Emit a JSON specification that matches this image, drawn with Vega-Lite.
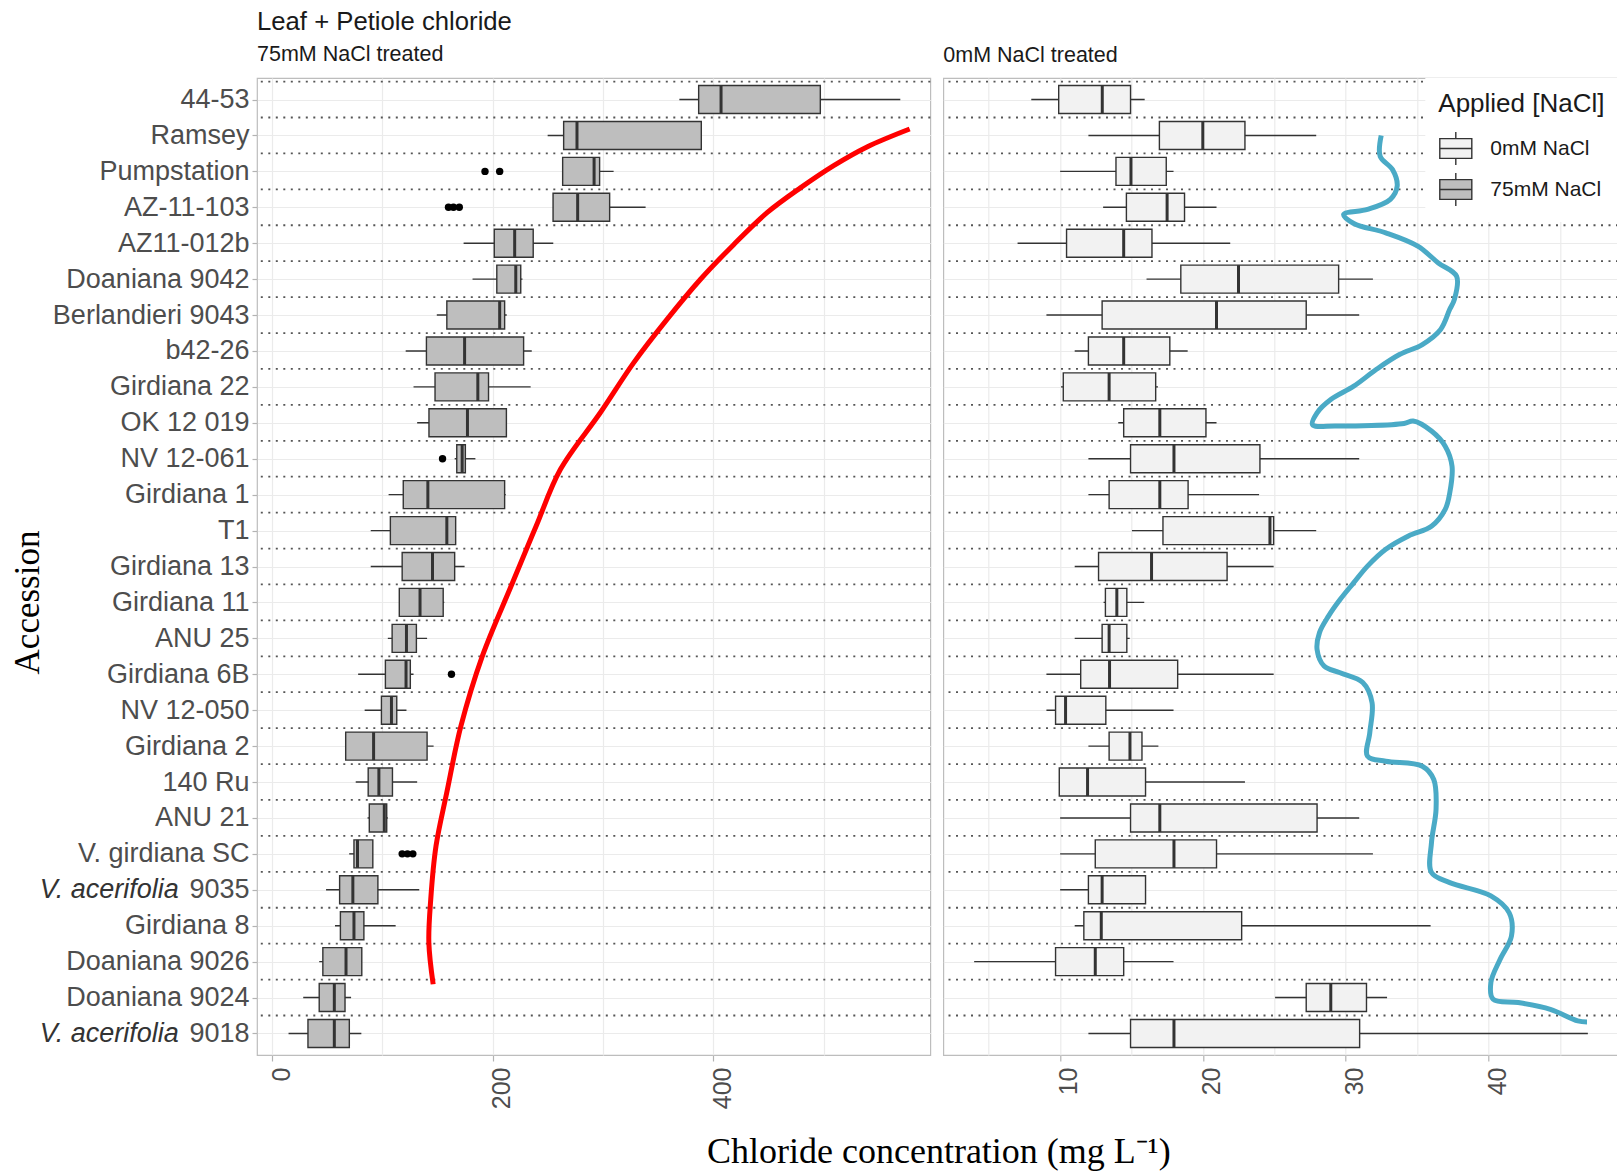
{
  "$schema": "https://vega.github.io/schema/vega-lite/v6.json",
  "background": "white",
  "padding": {"left": 9, "top": 8, "right": 0, "bottom": 0},
  "bounds": "flush",
  "spacing": 12.3,
  "config": {"view": {"stroke": "#bdbdbd", "strokeWidth": 1.2}, "font": "Liberation Sans"},
  "datasets": {
    "b75": [
      {"acc": "44-53", "lo": 369.3, "q1": 386.8, "med": 407.1, "q3": 497.1, "hi": 569.6},
      {"acc": "Ramsey", "lo": 249.9, "q1": 264.4, "med": 276.5, "q3": 389.2, "hi": 389.2},
      {"acc": "Pumpstation", "lo": 263.5, "q1": 263.5, "med": 292, "q3": 297, "hi": 309.7},
      {"acc": "AZ-11-103", "lo": 254.8, "q1": 254.8, "med": 277.1, "q3": 306.1, "hi": 338.7},
      {"acc": "AZ11-012b", "lo": 173.7, "q1": 201.5, "med": 220.0, "q3": 236.8, "hi": 255.0},
      {"acc": "Doaniana 9042", "lo": 181.8, "q1": 203.8, "med": 221.0, "q3": 225.5, "hi": 227.1},
      {"acc": "Berlandieri 9043", "lo": 149.4, "q1": 158.5, "med": 206.4, "q3": 210.9, "hi": 212.8},
      {"acc": "b42-26", "lo": 121.2, "q1": 140.0, "med": 174.6, "q3": 228.1, "hi": 235.5},
      {"acc": "Girdiana 22", "lo": 128.3, "q1": 147.8, "med": 186.6, "q3": 196.3, "hi": 234.5},
      {"acc": "OK 12 019", "lo": 131.6, "q1": 142.3, "med": 177.2, "q3": 212.5, "hi": 212.5},
      {"acc": "NV 12-061", "lo": 165.6, "q1": 167.5, "med": 172.4, "q3": 175.3, "hi": 184.4},
      {"acc": "Girdiana 1", "lo": 105.7, "q1": 119.0, "med": 141.3, "q3": 210.9, "hi": 211.9},
      {"acc": "T1", "lo": 89.5, "q1": 107.3, "med": 158.5, "q3": 166.5, "hi": 166.5},
      {"acc": "Girdiana 13", "lo": 89.5, "q1": 118.0, "med": 145.5, "q3": 165.6, "hi": 174.6},
      {"acc": "Girdiana 11", "lo": 115.4, "q1": 115.4, "med": 134.2, "q3": 155.2, "hi": 156.2},
      {"acc": "ANU 25", "lo": 105.0, "q1": 108.9, "med": 121.9, "q3": 130.9, "hi": 140.6},
      {"acc": "Girdiana 6B", "lo": 78.1, "q1": 102.8, "med": 121.5, "q3": 125.4, "hi": 128.3},
      {"acc": "NV 12-050", "lo": 84.0, "q1": 99.2, "med": 108.3, "q3": 113.1, "hi": 121.9},
      {"acc": "Girdiana 2", "lo": 66.8, "q1": 66.8, "med": 92.1, "q3": 140.6, "hi": 146.5},
      {"acc": "140 Ru", "lo": 75.9, "q1": 87.2, "med": 96.9, "q3": 109.2, "hi": 131.6},
      {"acc": "ANU 21", "lo": 86.6, "q1": 88.2, "med": 101.8, "q3": 104.0, "hi": 105.0},
      {"acc": "V. girdiana SC", "lo": 70.0, "q1": 74.3, "med": 77.5, "q3": 91.4, "hi": 91.4},
      {"acc": "V. acerifolia 9035", "lo": 49.0, "q1": 61.3, "med": 73.3, "q3": 96.0, "hi": 133.5},
      {"acc": "Girdiana 8", "lo": 57.1, "q1": 62.0, "med": 74.3, "q3": 83.3, "hi": 112.1},
      {"acc": "Doaniana 9026", "lo": 42.8, "q1": 46.1, "med": 67.1, "q3": 81.4, "hi": 81.4},
      {"acc": "Doaniana 9024", "lo": 28.3, "q1": 42.8, "med": 56.5, "q3": 66.2, "hi": 71.7},
      {"acc": "V. acerifolia 9018", "lo": 15.0, "q1": 32.6, "med": 56.5, "q3": 70.1, "hi": 81.0}
    ],
    "o75": [
      {"acc": "Pumpstation", "v": 193.1},
      {"acc": "Pumpstation", "v": 206.4},
      {"acc": "AZ-11-103", "v": 160.0},
      {"acc": "AZ-11-103", "v": 164.5},
      {"acc": "AZ-11-103", "v": 169.8},
      {"acc": "NV 12-061", "v": 154.6},
      {"acc": "Girdiana 6B", "v": 162.7},
      {"acc": "V. girdiana SC", "v": 118.0},
      {"acc": "V. girdiana SC", "v": 122.8},
      {"acc": "V. girdiana SC", "v": 127.7}
    ],
    "b0": [
      {"acc": "44-53", "trt": "0mM NaCl", "lo": 7.99, "q1": 9.91, "med": 12.96, "q3": 14.94, "hi": 15.93},
      {"acc": "Ramsey", "trt": "0mM NaCl", "lo": 11.99, "q1": 16.96, "med": 20.0, "q3": 22.95, "hi": 27.94},
      {"acc": "Pumpstation", "trt": "0mM NaCl", "lo": 10.01, "q1": 13.92, "med": 14.97, "q3": 17.44, "hi": 17.95},
      {"acc": "AZ-11-103", "trt": "0mM NaCl", "lo": 13.02, "q1": 14.65, "med": 17.5, "q3": 18.72, "hi": 20.96},
      {"acc": "AZ11-012b", "trt": "0mM NaCl", "lo": 7.03, "q1": 10.46, "med": 14.46, "q3": 16.44, "hi": 21.92},
      {"acc": "Doaniana 9042", "trt": "0mM NaCl", "lo": 16.06, "q1": 18.46, "med": 22.5, "q3": 29.51, "hi": 31.91},
      {"acc": "Berlandieri 9043", "trt": "0mM NaCl", "lo": 9.05, "q1": 12.95, "med": 20.96, "q3": 27.24, "hi": 30.95},
      {"acc": "b42-26", "trt": "0mM NaCl", "lo": 11.03, "q1": 11.99, "med": 14.46, "q3": 17.69, "hi": 18.94},
      {"acc": "Girdiana 22", "trt": "0mM NaCl", "lo": 10.07, "q1": 10.23, "med": 13.44, "q3": 16.7, "hi": 16.86},
      {"acc": "OK 12 019", "trt": "0mM NaCl", "lo": 14.08, "q1": 14.46, "med": 16.99, "q3": 20.22, "hi": 20.96},
      {"acc": "NV 12-061", "trt": "0mM NaCl", "lo": 11.99, "q1": 14.94, "med": 17.98, "q3": 24.0, "hi": 30.95},
      {"acc": "Girdiana 1", "trt": "0mM NaCl", "lo": 11.99, "q1": 13.44, "med": 16.99, "q3": 18.97, "hi": 23.94},
      {"acc": "T1", "trt": "0mM NaCl", "lo": 15.04, "q1": 17.21, "med": 24.7, "q3": 24.96, "hi": 27.94},
      {"acc": "Girdiana 13", "trt": "0mM NaCl", "lo": 11.03, "q1": 12.7, "med": 16.41, "q3": 21.7, "hi": 24.96},
      {"acc": "Girdiana 11", "trt": "0mM NaCl", "lo": 13.05, "q1": 13.18, "med": 13.98, "q3": 14.68, "hi": 15.9},
      {"acc": "ANU 25", "trt": "0mM NaCl", "lo": 11.03, "q1": 12.95, "med": 13.44, "q3": 14.68, "hi": 14.88},
      {"acc": "Girdiana 6B", "trt": "0mM NaCl", "lo": 9.05, "q1": 11.45, "med": 13.47, "q3": 18.24, "hi": 24.96},
      {"acc": "NV 12-050", "trt": "0mM NaCl", "lo": 9.05, "q1": 9.69, "med": 10.39, "q3": 13.21, "hi": 17.95},
      {"acc": "Girdiana 2", "trt": "0mM NaCl", "lo": 11.99, "q1": 13.44, "med": 14.9, "q3": 15.74, "hi": 16.89},
      {"acc": "140 Ru", "trt": "0mM NaCl", "lo": 9.95, "q1": 9.95, "med": 11.93, "q3": 15.99, "hi": 22.95},
      {"acc": "ANU 21", "trt": "0mM NaCl", "lo": 10.01, "q1": 14.94, "med": 16.99, "q3": 28.0, "hi": 30.95},
      {"acc": "V. girdiana SC", "trt": "0mM NaCl", "lo": 10.01, "q1": 12.47, "med": 17.98, "q3": 20.96, "hi": 31.91},
      {"acc": "V. acerifolia 9035", "trt": "0mM NaCl", "lo": 10.01, "q1": 11.99, "med": 12.95, "q3": 15.99, "hi": 15.99},
      {"acc": "Girdiana 8", "trt": "0mM NaCl", "lo": 11.03, "q1": 11.67, "med": 12.89, "q3": 22.72, "hi": 35.95},
      {"acc": "Doaniana 9026", "trt": "0mM NaCl", "lo": 3.99, "q1": 9.69, "med": 12.47, "q3": 14.46, "hi": 17.95},
      {"acc": "Doaniana 9024", "trt": "0mM NaCl", "lo": 25.06, "q1": 27.24, "med": 28.96, "q3": 31.46, "hi": 32.9},
      {"acc": "V. acerifolia 9018", "trt": "0mM NaCl", "lo": 11.99, "q1": 14.94, "med": 17.98, "q3": 30.98, "hi": 46.96}
    ],
    "curves": [
      {"panel": "L", "seq": 1, "v": 146.1, "r": 24.63},
      {"panel": "L", "seq": 2, "v": 142.2, "r": 23.47},
      {"panel": "L", "seq": 3, "v": 143.9, "r": 22.27},
      {"panel": "L", "seq": 4, "v": 148.7, "r": 20.78},
      {"panel": "L", "seq": 5, "v": 158.4, "r": 19.30},
      {"panel": "L", "seq": 6, "v": 171.3, "r": 17.44},
      {"panel": "L", "seq": 7, "v": 190.6, "r": 15.5},
      {"panel": "L", "seq": 8, "v": 216.7, "r": 13.55},
      {"panel": "L", "seq": 9, "v": 239.4, "r": 11.88},
      {"panel": "L", "seq": 10, "v": 261.4, "r": 10.30},
      {"panel": "L", "seq": 11, "v": 297.6, "r": 8.72},
      {"panel": "L", "seq": 12, "v": 327.8, "r": 7.33},
      {"panel": "L", "seq": 13, "v": 358.1, "r": 6.12},
      {"panel": "L", "seq": 14, "v": 388.3, "r": 5.01},
      {"panel": "L", "seq": 15, "v": 418.5, "r": 4.04},
      {"panel": "L", "seq": 16, "v": 448.8, "r": 3.15},
      {"panel": "L", "seq": 17, "v": 479.0, "r": 2.46},
      {"panel": "L", "seq": 18, "v": 509.2, "r": 1.84},
      {"panel": "L", "seq": 19, "v": 539.4, "r": 1.32},
      {"panel": "L", "seq": 20, "v": 578.1, "r": 0.82},
      {"panel": "R", "seq": 1, "v": 32.49, "r": 1.00},
      {"panel": "R", "seq": 2, "v": 32.42, "r": 1.58},
      {"panel": "R", "seq": 3, "v": 33.28, "r": 1.95},
      {"panel": "R", "seq": 4, "v": 33.61, "r": 2.41},
      {"panel": "R", "seq": 5, "v": 33.13, "r": 2.78},
      {"panel": "R", "seq": 6, "v": 31.53, "r": 3.06},
      {"panel": "R", "seq": 7, "v": 29.86, "r": 3.20},
      {"panel": "R", "seq": 8, "v": 30.57, "r": 3.45},
      {"panel": "R", "seq": 9, "v": 32.81, "r": 3.71},
      {"panel": "R", "seq": 10, "v": 35.05, "r": 4.08},
      {"panel": "R", "seq": 11, "v": 36.49, "r": 4.55},
      {"panel": "R", "seq": 12, "v": 37.77, "r": 4.92},
      {"panel": "R", "seq": 13, "v": 37.61, "r": 5.57},
      {"panel": "R", "seq": 14, "v": 37.29, "r": 5.84},
      {"panel": "R", "seq": 15, "v": 36.65, "r": 6.40},
      {"panel": "R", "seq": 16, "v": 35.37, "r": 6.82},
      {"panel": "R", "seq": 17, "v": 33.77, "r": 7.10},
      {"panel": "R", "seq": 18, "v": 32.16, "r": 7.51},
      {"panel": "R", "seq": 19, "v": 30.57, "r": 7.98},
      {"panel": "R", "seq": 20, "v": 28.96, "r": 8.35},
      {"panel": "R", "seq": 21, "v": 28.00, "r": 8.72},
      {"panel": "R", "seq": 22, "v": 27.68, "r": 9.05},
      {"panel": "R", "seq": 23, "v": 29.29, "r": 9.09},
      {"panel": "R", "seq": 24, "v": 34.09, "r": 9.02},
      {"panel": "R", "seq": 25, "v": 34.73, "r": 8.95},
      {"panel": "R", "seq": 26, "v": 36.01, "r": 9.23},
      {"panel": "R", "seq": 27, "v": 36.97, "r": 9.65},
      {"panel": "R", "seq": 28, "v": 37.45, "r": 10.21},
      {"panel": "R", "seq": 29, "v": 37.29, "r": 10.95},
      {"panel": "R", "seq": 30, "v": 36.97, "r": 11.41},
      {"panel": "R", "seq": 31, "v": 36.01, "r": 11.88},
      {"panel": "R", "seq": 32, "v": 34.40, "r": 12.15},
      {"panel": "R", "seq": 33, "v": 32.81, "r": 12.52},
      {"panel": "R", "seq": 34, "v": 31.53, "r": 12.99},
      {"panel": "R", "seq": 35, "v": 30.57, "r": 13.45},
      {"panel": "R", "seq": 36, "v": 29.61, "r": 13.92},
      {"panel": "R", "seq": 37, "v": 28.80, "r": 14.38},
      {"panel": "R", "seq": 38, "v": 28.17, "r": 14.84},
      {"panel": "R", "seq": 39, "v": 28.00, "r": 15.31},
      {"panel": "R", "seq": 40, "v": 28.49, "r": 15.77},
      {"panel": "R", "seq": 41, "v": 29.61, "r": 15.96},
      {"panel": "R", "seq": 42, "v": 31.20, "r": 16.23},
      {"panel": "R", "seq": 43, "v": 31.85, "r": 16.79},
      {"panel": "R", "seq": 44, "v": 31.69, "r": 17.63},
      {"panel": "R", "seq": 45, "v": 31.53, "r": 18.28},
      {"panel": "R", "seq": 46, "v": 32.81, "r": 18.42},
      {"panel": "R", "seq": 47, "v": 35.37, "r": 18.56},
      {"panel": "R", "seq": 48, "v": 36.17, "r": 18.93},
      {"panel": "R", "seq": 49, "v": 36.33, "r": 19.76},
      {"panel": "R", "seq": 50, "v": 36.01, "r": 20.69},
      {"panel": "R", "seq": 51, "v": 36.01, "r": 21.52},
      {"panel": "R", "seq": 52, "v": 37.29, "r": 21.80},
      {"panel": "R", "seq": 53, "v": 40.17, "r": 22.17},
      {"panel": "R", "seq": 54, "v": 41.45, "r": 22.64},
      {"panel": "R", "seq": 55, "v": 41.61, "r": 23.29},
      {"panel": "R", "seq": 56, "v": 40.81, "r": 23.94},
      {"panel": "R", "seq": 57, "v": 40.17, "r": 24.58},
      {"panel": "R", "seq": 58, "v": 40.33, "r": 25.05},
      {"panel": "R", "seq": 59, "v": 42.09, "r": 25.14},
      {"panel": "R", "seq": 60, "v": 44.33, "r": 25.33},
      {"panel": "R", "seq": 61, "v": 46.25, "r": 25.65},
      {"panel": "R", "seq": 62, "v": 46.90, "r": 25.68}
    ]
  },
  "resolve": {"scale": {"fill": "independent"}, "legend": {"fill": "independent"}},
  "hconcat": [
    {
      "width": 673.3,
      "height": 977,
      "title": {"text": "Leaf + Petiole chloride", "subtitle": "75mM NaCl treated", "anchor": "start", "frame": "group", "font": "Liberation Sans", "fontSize": 25.7, "fontWeight": "normal", "color": "#1a1a1a", "subtitleFont": "Liberation Sans", "subtitleFontSize": 21.5, "subtitleColor": "#1a1a1a", "subtitlePadding": 8, "offset": 12},
      "layer": [
        {
          "data": {"name": "b75"},
          "layer": [
            {
              "mark": {"type": "rule", "strokeDash": [2, 5.5], "strokeWidth": 1.8, "color": "#555555", "yOffset": -17.96},
              "encoding": {
                "y": {"field": "acc", "type": "nominal", "scale": {"type": "point", "padding": 0.6, "domain": ["44-53","Ramsey","Pumpstation","AZ-11-103","AZ11-012b","Doaniana 9042","Berlandieri 9043","b42-26","Girdiana 22","OK 12 019","NV 12-061","Girdiana 1","T1","Girdiana 13","Girdiana 11","ANU 25","Girdiana 6B","NV 12-050","Girdiana 2","140 Ru","ANU 21","V. girdiana SC","V. acerifolia 9035","Girdiana 8","Doaniana 9026","Doaniana 9024","V. acerifolia 9018"]},
                  "axis": {"orient": "left", "labelExpr": "datum.value === 'V. acerifolia 9035' ? '9035' : (datum.value === 'V. acerifolia 9018' ? '9018' : datum.label)", "labelFont": "Liberation Sans", "labelFontSize": 27, "labelColor": "#4d4d4d", "labelPadding": 3, "labelLimit": 0, "labelOverlap": false, "tickSize": 5, "tickColor": "#b3b3b3", "tickWidth": 1.2, "grid": true, "gridColor": "#ebebeb", "gridWidth": 1.2, "domain": false, "title": null}}
              }
            },
            {
              "mark": {"type": "rule", "color": "#333333", "strokeWidth": 1.4},
              "encoding": {
                "y": {"field": "acc", "type": "nominal", "scale": {"type": "point", "padding": 0.6, "domain": ["44-53","Ramsey","Pumpstation","AZ-11-103","AZ11-012b","Doaniana 9042","Berlandieri 9043","b42-26","Girdiana 22","OK 12 019","NV 12-061","Girdiana 1","T1","Girdiana 13","Girdiana 11","ANU 25","Girdiana 6B","NV 12-050","Girdiana 2","140 Ru","ANU 21","V. girdiana SC","V. acerifolia 9035","Girdiana 8","Doaniana 9026","Doaniana 9024","V. acerifolia 9018"]},
                  "axis": {"orient": "left", "labelExpr": "datum.value === 'V. acerifolia 9035' ? '9035' : (datum.value === 'V. acerifolia 9018' ? '9018' : datum.label)", "labelFont": "Liberation Sans", "labelFontSize": 27, "labelColor": "#4d4d4d", "labelPadding": 3, "labelLimit": 0, "labelOverlap": false, "tickSize": 5, "tickColor": "#b3b3b3", "tickWidth": 1.2, "grid": true, "gridColor": "#ebebeb", "gridWidth": 1.2, "domain": false, "title": null}},
                "x": {"field": "lo", "type": "quantitative", "scale": {"domain": [-13.6, 596.8], "nice": false, "zero": false},
                  "axis": {"values": [0, 100, 200, 300, 400, 500], "labelExpr": "datum.value % 200 === 0 ? datum.label : ''", "tickOpacity": {"condition": {"test": "datum.value % 200 !== 0", "value": 0}, "value": 1}, "grid": true, "gridColor": "#ebebeb", "gridWidth": 1.2, "domain": false, "tickSize": 6, "tickColor": "#b3b3b3", "tickWidth": 1.2, "labelAngle": -90, "labelAlign": "right", "labelBaseline": "middle", "labelOffset": 9, "labelFlush": false, "labelOverlap": false, "labelFont": "Liberation Sans", "labelFontSize": 25, "labelColor": "#4d4d4d", "labelPadding": 6, "title": "Chloride concentration (mg L⁻¹)", "titleFont": "Liberation Serif", "titleFontSize": 36, "titleFontWeight": "normal", "titleColor": "#000000", "titleX": 681.3, "titlePadding": 26}},
                "x2": {"field": "hi"}
              }
            },
            {
              "mark": {"type": "bar", "size": 28, "fill": "#bebebe", "stroke": "#333333", "strokeWidth": 1.4, "opacity": 1},
              "encoding": {
                "y": {"field": "acc", "type": "nominal", "scale": {"type": "point", "padding": 0.6, "domain": ["44-53","Ramsey","Pumpstation","AZ-11-103","AZ11-012b","Doaniana 9042","Berlandieri 9043","b42-26","Girdiana 22","OK 12 019","NV 12-061","Girdiana 1","T1","Girdiana 13","Girdiana 11","ANU 25","Girdiana 6B","NV 12-050","Girdiana 2","140 Ru","ANU 21","V. girdiana SC","V. acerifolia 9035","Girdiana 8","Doaniana 9026","Doaniana 9024","V. acerifolia 9018"]},
                  "axis": {"orient": "left", "labelExpr": "datum.value === 'V. acerifolia 9035' ? '9035' : (datum.value === 'V. acerifolia 9018' ? '9018' : datum.label)", "labelFont": "Liberation Sans", "labelFontSize": 27, "labelColor": "#4d4d4d", "labelPadding": 3, "labelLimit": 0, "labelOverlap": false, "tickSize": 5, "tickColor": "#b3b3b3", "tickWidth": 1.2, "grid": true, "gridColor": "#ebebeb", "gridWidth": 1.2, "domain": false, "title": null}},
                "x": {"field": "q1", "type": "quantitative", "scale": {"domain": [-13.6, 596.8], "nice": false, "zero": false},
                  "axis": {"values": [0, 100, 200, 300, 400, 500], "labelExpr": "datum.value % 200 === 0 ? datum.label : ''", "tickOpacity": {"condition": {"test": "datum.value % 200 !== 0", "value": 0}, "value": 1}, "grid": true, "gridColor": "#ebebeb", "gridWidth": 1.2, "domain": false, "tickSize": 6, "tickColor": "#b3b3b3", "tickWidth": 1.2, "labelAngle": -90, "labelAlign": "right", "labelBaseline": "middle", "labelOffset": 9, "labelFlush": false, "labelOverlap": false, "labelFont": "Liberation Sans", "labelFontSize": 25, "labelColor": "#4d4d4d", "labelPadding": 6, "title": "Chloride concentration (mg L⁻¹)", "titleFont": "Liberation Serif", "titleFontSize": 36, "titleFontWeight": "normal", "titleColor": "#000000", "titleX": 681.3, "titlePadding": 26}},
                "x2": {"field": "q3"}
              }
            },
            {
              "mark": {"type": "tick", "size": 28, "thickness": 3, "color": "#333333", "opacity": 1},
              "encoding": {
                "y": {"field": "acc", "type": "nominal", "scale": {"type": "point", "padding": 0.6, "domain": ["44-53","Ramsey","Pumpstation","AZ-11-103","AZ11-012b","Doaniana 9042","Berlandieri 9043","b42-26","Girdiana 22","OK 12 019","NV 12-061","Girdiana 1","T1","Girdiana 13","Girdiana 11","ANU 25","Girdiana 6B","NV 12-050","Girdiana 2","140 Ru","ANU 21","V. girdiana SC","V. acerifolia 9035","Girdiana 8","Doaniana 9026","Doaniana 9024","V. acerifolia 9018"]},
                  "axis": {"orient": "left", "labelExpr": "datum.value === 'V. acerifolia 9035' ? '9035' : (datum.value === 'V. acerifolia 9018' ? '9018' : datum.label)", "labelFont": "Liberation Sans", "labelFontSize": 27, "labelColor": "#4d4d4d", "labelPadding": 3, "labelLimit": 0, "labelOverlap": false, "tickSize": 5, "tickColor": "#b3b3b3", "tickWidth": 1.2, "grid": true, "gridColor": "#ebebeb", "gridWidth": 1.2, "domain": false, "title": null}},
                "x": {"field": "med", "type": "quantitative", "scale": {"domain": [-13.6, 596.8], "nice": false, "zero": false},
                  "axis": {"values": [0, 100, 200, 300, 400, 500], "labelExpr": "datum.value % 200 === 0 ? datum.label : ''", "tickOpacity": {"condition": {"test": "datum.value % 200 !== 0", "value": 0}, "value": 1}, "grid": true, "gridColor": "#ebebeb", "gridWidth": 1.2, "domain": false, "tickSize": 6, "tickColor": "#b3b3b3", "tickWidth": 1.2, "labelAngle": -90, "labelAlign": "right", "labelBaseline": "middle", "labelOffset": 9, "labelFlush": false, "labelOverlap": false, "labelFont": "Liberation Sans", "labelFontSize": 25, "labelColor": "#4d4d4d", "labelPadding": 6, "title": "Chloride concentration (mg L⁻¹)", "titleFont": "Liberation Serif", "titleFontSize": 36, "titleFontWeight": "normal", "titleColor": "#000000", "titleX": 681.3, "titlePadding": 26}}
              }
            },
            {
              "data": {"name": "o75"},
              "mark": {"type": "circle", "size": 55, "color": "#000000", "opacity": 1},
              "encoding": {
                "y": {"field": "acc", "type": "nominal", "scale": {"type": "point", "padding": 0.6, "domain": ["44-53","Ramsey","Pumpstation","AZ-11-103","AZ11-012b","Doaniana 9042","Berlandieri 9043","b42-26","Girdiana 22","OK 12 019","NV 12-061","Girdiana 1","T1","Girdiana 13","Girdiana 11","ANU 25","Girdiana 6B","NV 12-050","Girdiana 2","140 Ru","ANU 21","V. girdiana SC","V. acerifolia 9035","Girdiana 8","Doaniana 9026","Doaniana 9024","V. acerifolia 9018"]},
                  "axis": {"orient": "left", "labelExpr": "datum.value === 'V. acerifolia 9035' ? '9035' : (datum.value === 'V. acerifolia 9018' ? '9018' : datum.label)", "labelFont": "Liberation Sans", "labelFontSize": 27, "labelColor": "#4d4d4d", "labelPadding": 3, "labelLimit": 0, "labelOverlap": false, "tickSize": 5, "tickColor": "#b3b3b3", "tickWidth": 1.2, "grid": true, "gridColor": "#ebebeb", "gridWidth": 1.2, "domain": false, "title": null}},
                "x": {"field": "v", "type": "quantitative", "scale": {"domain": [-13.6, 596.8], "nice": false, "zero": false},
                  "axis": {"values": [0, 100, 200, 300, 400, 500], "labelExpr": "datum.value % 200 === 0 ? datum.label : ''", "tickOpacity": {"condition": {"test": "datum.value % 200 !== 0", "value": 0}, "value": 1}, "grid": true, "gridColor": "#ebebeb", "gridWidth": 1.2, "domain": false, "tickSize": 6, "tickColor": "#b3b3b3", "tickWidth": 1.2, "labelAngle": -90, "labelAlign": "right", "labelBaseline": "middle", "labelOffset": 9, "labelFlush": false, "labelOverlap": false, "labelFont": "Liberation Sans", "labelFontSize": 25, "labelColor": "#4d4d4d", "labelPadding": 6, "title": "Chloride concentration (mg L⁻¹)", "titleFont": "Liberation Serif", "titleFontSize": 36, "titleFontWeight": "normal", "titleColor": "#000000", "titleX": 681.3, "titlePadding": 26}}
              }
            }
          ]
        },
        {
          "data": {"name": "b75"},
          "mark": {"type": "point", "opacity": 0},
          "encoding": {
            "y": {"field": "acc", "type": "nominal", "scale": {"type": "point", "padding": 0.6, "domain": ["44-53","Ramsey","Pumpstation","AZ-11-103","AZ11-012b","Doaniana 9042","Berlandieri 9043","b42-26","Girdiana 22","OK 12 019","NV 12-061","Girdiana 1","T1","Girdiana 13","Girdiana 11","ANU 25","Girdiana 6B","NV 12-050","Girdiana 2","140 Ru","ANU 21","V. girdiana SC","V. acerifolia 9035","Girdiana 8","Doaniana 9026","Doaniana 9024","V. acerifolia 9018"]},
              "axis": {"orient": "left", "labelExpr": "(datum.value === 'V. acerifolia 9035' || datum.value === 'V. acerifolia 9018') ? 'V. acerifolia' : ''", "labelFont": "Liberation Sans", "labelFontStyle": "italic", "labelFontSize": 27, "labelColor": "#333333", "labelLimit": 0, "labelOverlap": false, "ticks": true, "tickSize": 5, "tickOpacity": 0, "labelPadding": 73.8, "grid": false, "domain": false, "title": "Accession", "titleFont": "Liberation Serif", "titleFontSize": 35, "titleFontWeight": "normal", "titleColor": "#000000", "titleBaseline": "alphabetic", "titlePadding": 18.5, "titleY": 524}},
            "x": {"field": "med", "type": "quantitative", "scale": {"domain": [-13.6, 596.8], "nice": false, "zero": false},
              "axis": {"values": [0, 100, 200, 300, 400, 500], "labelExpr": "datum.value % 200 === 0 ? datum.label : ''", "tickOpacity": {"condition": {"test": "datum.value % 200 !== 0", "value": 0}, "value": 1}, "grid": true, "gridColor": "#ebebeb", "gridWidth": 1.2, "domain": false, "tickSize": 6, "tickColor": "#b3b3b3", "tickWidth": 1.2, "labelAngle": -90, "labelAlign": "right", "labelBaseline": "middle", "labelOffset": 9, "labelFlush": false, "labelOverlap": false, "labelFont": "Liberation Sans", "labelFontSize": 25, "labelColor": "#4d4d4d", "labelPadding": 6, "title": "Chloride concentration (mg L⁻¹)", "titleFont": "Liberation Serif", "titleFontSize": 36, "titleFontWeight": "normal", "titleColor": "#000000", "titleX": 681.3, "titlePadding": 26}}
          }
        },
        {
          "data": {"name": "curves"},
          "transform": [{"filter": "datum.panel === 'L'"}],
          "mark": {"type": "line", "color": "#ff0000", "strokeWidth": 5, "interpolate": "catmull-rom", "clip": true},
          "encoding": {
            "x": {"field": "v", "type": "quantitative", "scale": {"domain": [-13.6, 596.8], "nice": false, "zero": false},
              "axis": {"values": [0, 100, 200, 300, 400, 500], "labelExpr": "datum.value % 200 === 0 ? datum.label : ''", "tickOpacity": {"condition": {"test": "datum.value % 200 !== 0", "value": 0}, "value": 1}, "grid": true, "gridColor": "#ebebeb", "gridWidth": 1.2, "domain": false, "tickSize": 6, "tickColor": "#b3b3b3", "tickWidth": 1.2, "labelAngle": -90, "labelAlign": "right", "labelBaseline": "middle", "labelOffset": 9, "labelFlush": false, "labelOverlap": false, "labelFont": "Liberation Sans", "labelFontSize": 25, "labelColor": "#4d4d4d", "labelPadding": 6, "title": "Chloride concentration (mg L⁻¹)", "titleFont": "Liberation Serif", "titleFontSize": 36, "titleFontWeight": "normal", "titleColor": "#000000", "titleX": 681.3, "titlePadding": 26}},
            "y": {"field": "r", "type": "quantitative", "scale": {"domain": [-0.6, 26.6], "reverse": true, "nice": false, "zero": false}, "axis": null},
            "order": {"field": "seq", "type": "quantitative"}
          }
        }
      ],
      "resolve": {"scale": {"y": "independent"}, "axis": {"y": "independent"}}
    },
    {
      "width": 674.7,
      "height": 977,
      "title": {"text": "0mM NaCl treated", "anchor": "start", "frame": "group", "font": "Liberation Sans", "fontSize": 21.5, "fontWeight": "normal", "color": "#1a1a1a", "offset": 12},
      "layer": [
        {
          "data": {"name": "b0"},
          "layer": [
            {
              "mark": {"type": "rule", "strokeDash": [2, 5.5], "strokeWidth": 1.8, "color": "#555555", "yOffset": -17.96},
              "encoding": {
                "y": {"field": "acc", "type": "nominal", "scale": {"type": "point", "padding": 0.6, "domain": ["44-53","Ramsey","Pumpstation","AZ-11-103","AZ11-012b","Doaniana 9042","Berlandieri 9043","b42-26","Girdiana 22","OK 12 019","NV 12-061","Girdiana 1","T1","Girdiana 13","Girdiana 11","ANU 25","Girdiana 6B","NV 12-050","Girdiana 2","140 Ru","ANU 21","V. girdiana SC","V. acerifolia 9035","Girdiana 8","Doaniana 9026","Doaniana 9024","V. acerifolia 9018"]},
                  "axis": {"labels": false, "ticks": false, "domain": false, "grid": true, "gridColor": "#ebebeb", "gridWidth": 1.2, "title": null}}
              }
            },
            {
              "mark": {"type": "rule", "color": "#333333", "strokeWidth": 1.4},
              "encoding": {
                "y": {"field": "acc", "type": "nominal", "scale": {"type": "point", "padding": 0.6, "domain": ["44-53","Ramsey","Pumpstation","AZ-11-103","AZ11-012b","Doaniana 9042","Berlandieri 9043","b42-26","Girdiana 22","OK 12 019","NV 12-061","Girdiana 1","T1","Girdiana 13","Girdiana 11","ANU 25","Girdiana 6B","NV 12-050","Girdiana 2","140 Ru","ANU 21","V. girdiana SC","V. acerifolia 9035","Girdiana 8","Doaniana 9026","Doaniana 9024","V. acerifolia 9018"]},
                  "axis": {"labels": false, "ticks": false, "domain": false, "grid": true, "gridColor": "#ebebeb", "gridWidth": 1.2, "title": null}},
                "x": {"field": "lo", "type": "quantitative", "scale": {"domain": [1.83, 49.07], "nice": false, "zero": false},
                  "axis": {"values": [5, 10, 15, 20, 25, 30, 35, 40, 45], "labelExpr": "datum.value % 10 === 0 ? datum.label : ''", "tickOpacity": {"condition": {"test": "datum.value % 10 !== 0", "value": 0}, "value": 1}, "grid": true, "gridColor": "#ebebeb", "gridWidth": 1.2, "domain": false, "tickSize": 6, "tickColor": "#b3b3b3", "tickWidth": 1.2, "labelAngle": -90, "labelAlign": "right", "labelBaseline": "middle", "labelOffset": 9, "labelFlush": false, "labelOverlap": false, "labelFont": "Liberation Sans", "labelFontSize": 25, "labelColor": "#4d4d4d", "labelPadding": 6, "title": null}},
                "x2": {"field": "hi"}
              }
            },
            {
              "mark": {"type": "bar", "size": 28, "stroke": "#333333", "strokeWidth": 1.4, "opacity": 1},
              "encoding": {
                "y": {"field": "acc", "type": "nominal", "scale": {"type": "point", "padding": 0.6, "domain": ["44-53","Ramsey","Pumpstation","AZ-11-103","AZ11-012b","Doaniana 9042","Berlandieri 9043","b42-26","Girdiana 22","OK 12 019","NV 12-061","Girdiana 1","T1","Girdiana 13","Girdiana 11","ANU 25","Girdiana 6B","NV 12-050","Girdiana 2","140 Ru","ANU 21","V. girdiana SC","V. acerifolia 9035","Girdiana 8","Doaniana 9026","Doaniana 9024","V. acerifolia 9018"]},
                  "axis": {"labels": false, "ticks": false, "domain": false, "grid": true, "gridColor": "#ebebeb", "gridWidth": 1.2, "title": null}},
                "x": {"field": "q1", "type": "quantitative", "scale": {"domain": [1.83, 49.07], "nice": false, "zero": false},
                  "axis": {"values": [5, 10, 15, 20, 25, 30, 35, 40, 45], "labelExpr": "datum.value % 10 === 0 ? datum.label : ''", "tickOpacity": {"condition": {"test": "datum.value % 10 !== 0", "value": 0}, "value": 1}, "grid": true, "gridColor": "#ebebeb", "gridWidth": 1.2, "domain": false, "tickSize": 6, "tickColor": "#b3b3b3", "tickWidth": 1.2, "labelAngle": -90, "labelAlign": "right", "labelBaseline": "middle", "labelOffset": 9, "labelFlush": false, "labelOverlap": false, "labelFont": "Liberation Sans", "labelFontSize": 25, "labelColor": "#4d4d4d", "labelPadding": 6, "title": null}},
                "x2": {"field": "q3"},
                "fill": {"field": "trt", "type": "nominal", "scale": {"domain": ["0mM NaCl", "75mM NaCl"], "range": ["#f2f2f2", "#bebebe"]},
                  "legend": {"title": "Applied [NaCl]", "orient": "top-right", "offset": 0, "fillColor": "white", "padding": 13, "titleFont": "Liberation Sans", "titleFontSize": 26, "titleFontWeight": "normal", "titleColor": "#1a1a1a", "titlePadding": 14, "labelFont": "Liberation Sans", "labelFontSize": 21, "labelColor": "#1a1a1a", "labelOffset": 17, "symbolType": "M0,-1L0,-0.6M-0.97,-0.6L0.97,-0.6L0.97,0.6L-0.97,0.6ZM-0.97,0L0.97,0M0,0.6L0,1", "symbolSize": 1089, "symbolStrokeColor": "#333333", "symbolStrokeWidth": 1.4, "rowPadding": 2}}
              }
            },
            {
              "mark": {"type": "tick", "size": 28, "thickness": 3, "color": "#333333", "opacity": 1},
              "encoding": {
                "y": {"field": "acc", "type": "nominal", "scale": {"type": "point", "padding": 0.6, "domain": ["44-53","Ramsey","Pumpstation","AZ-11-103","AZ11-012b","Doaniana 9042","Berlandieri 9043","b42-26","Girdiana 22","OK 12 019","NV 12-061","Girdiana 1","T1","Girdiana 13","Girdiana 11","ANU 25","Girdiana 6B","NV 12-050","Girdiana 2","140 Ru","ANU 21","V. girdiana SC","V. acerifolia 9035","Girdiana 8","Doaniana 9026","Doaniana 9024","V. acerifolia 9018"]},
                  "axis": {"labels": false, "ticks": false, "domain": false, "grid": true, "gridColor": "#ebebeb", "gridWidth": 1.2, "title": null}},
                "x": {"field": "med", "type": "quantitative", "scale": {"domain": [1.83, 49.07], "nice": false, "zero": false},
                  "axis": {"values": [5, 10, 15, 20, 25, 30, 35, 40, 45], "labelExpr": "datum.value % 10 === 0 ? datum.label : ''", "tickOpacity": {"condition": {"test": "datum.value % 10 !== 0", "value": 0}, "value": 1}, "grid": true, "gridColor": "#ebebeb", "gridWidth": 1.2, "domain": false, "tickSize": 6, "tickColor": "#b3b3b3", "tickWidth": 1.2, "labelAngle": -90, "labelAlign": "right", "labelBaseline": "middle", "labelOffset": 9, "labelFlush": false, "labelOverlap": false, "labelFont": "Liberation Sans", "labelFontSize": 25, "labelColor": "#4d4d4d", "labelPadding": 6, "title": null}}
              }
            }
          ]
        },
        {
          "data": {"name": "curves"},
          "transform": [{"filter": "datum.panel === 'R'"}],
          "mark": {"type": "line", "color": "#4aaac6", "strokeWidth": 5, "interpolate": "catmull-rom", "clip": true},
          "encoding": {
            "x": {"field": "v", "type": "quantitative", "scale": {"domain": [1.83, 49.07], "nice": false, "zero": false},
              "axis": {"values": [5, 10, 15, 20, 25, 30, 35, 40, 45], "labelExpr": "datum.value % 10 === 0 ? datum.label : ''", "tickOpacity": {"condition": {"test": "datum.value % 10 !== 0", "value": 0}, "value": 1}, "grid": true, "gridColor": "#ebebeb", "gridWidth": 1.2, "domain": false, "tickSize": 6, "tickColor": "#b3b3b3", "tickWidth": 1.2, "labelAngle": -90, "labelAlign": "right", "labelBaseline": "middle", "labelOffset": 9, "labelFlush": false, "labelOverlap": false, "labelFont": "Liberation Sans", "labelFontSize": 25, "labelColor": "#4d4d4d", "labelPadding": 6, "title": null}},
            "y": {"field": "r", "type": "quantitative", "scale": {"domain": [-0.6, 26.6], "reverse": true, "nice": false, "zero": false}, "axis": null},
            "order": {"field": "seq", "type": "quantitative"}
          }
        }
      ],
      "resolve": {"scale": {"y": "independent"}, "axis": {"y": "independent"}}
    }
  ]
}
